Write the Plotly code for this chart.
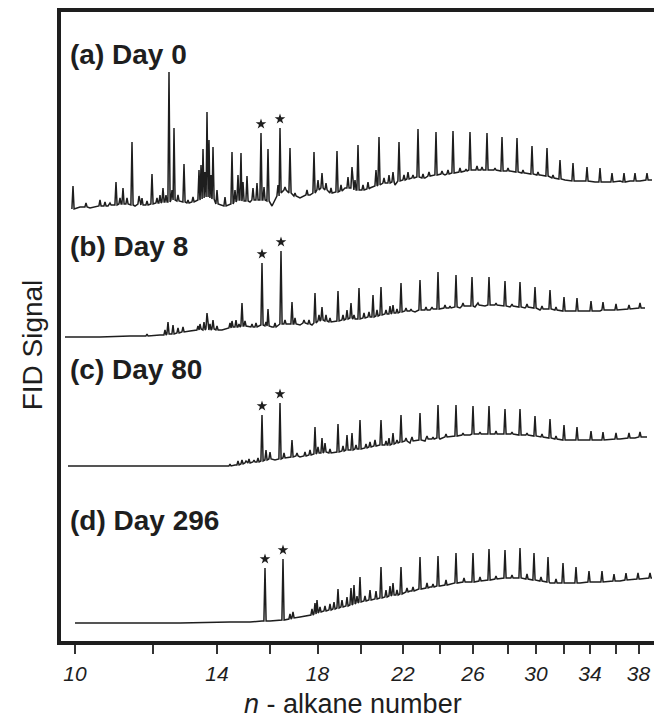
import numpy as np
import plotly.graph_objects as go

# ---------------- x axis: n-alkane reference retention times (min) ----------------
ALKANE_N = [10, 12, 14, 16, 18, 20, 22, 24, 26, 28, 30, 32, 34, 36, 38]
ALKANE_RT = [3.5, 11.3, 17.7, 22.95, 27.75, 32.05, 36.3, 40.0, 43.3, 46.8,
             49.6, 52.4, 55.0, 57.55, 59.85]
LABELED_N = [10, 14, 18, 22, 26, 30, 34, 38]

# ---------------- (a) Day 0 ----------------
A_BASE_RT = [3.2, 4.0, 5.0, 6.0, 6.8, 8.5, 9.5, 10.5, 11.5, 12.5, 14.0, 15.0, 15.5, 17.0, 17.8,
             18.5, 19.0, 19.6, 20.5, 21.0, 21.5, 22.5, 23.2, 23.6, 24.5, 25.5, 26.0, 27.0, 27.8,
             28.5, 29.3, 30.0, 30.5, 31.5, 32.3, 33.0, 34.5, 35.0, 35.5, 36.5, 37.2, 38.5, 39.0,
             40.5, 42.0, 43.0, 44.0, 45.5, 47.0, 48.5, 50.0, 51.3, 52.5, 54.0, 55.5, 56.5, 58.0,
             59.0, 60.0, 61.2]
A_BASE_SIG = [1, 3, 2, 4, 4, 5, 4, 6, 5, 7, 7, 9, 7, 12, 6,
              3, 4, 7, 10, 8, 10, 7, 4, 15, 20, 14, 12, 15, 17,
              13, 17, 17, 22, 20, 20, 22, 25, 28, 25, 30, 32, 32, 35,
              35, 37, 38, 40, 40, 39, 37, 35, 32, 30, 29, 28, 28, 29,
              29, 29, 30]
A_PEAK_RT = [3.3, 4.6, 6.0, 6.5, 7.0, 7.6, 8.0, 8.3, 8.7, 9.2, 9.9, 10.2, 10.7, 11.2, 11.7,
             12.0, 12.3, 12.6, 12.9, 13.2, 13.4, 13.8, 14.4, 14.8, 15.3, 15.9, 16.1, 16.3, 16.5,
             16.7, 16.9, 17.1, 17.3, 17.7, 18.5, 19.2, 19.5, 19.8, 20.1, 20.3, 20.7, 21.3, 21.7,
             22.1, 22.4, 22.8, 23.8, 24.0, 24.5, 25.0, 25.5, 26.7, 27.4, 27.8, 28.2, 28.6, 29.1,
             29.7, 30.1, 30.8, 31.2, 31.5, 31.8, 32.3, 32.8, 33.6, 33.9, 34.4, 34.9, 35.3, 35.9,
             36.4, 36.8, 37.3, 37.8, 38.3, 38.9, 39.6, 40.2, 40.8, 41.3, 42.0, 42.6, 43.0, 43.7,
             44.2, 44.7, 45.5, 46.2, 46.8, 47.7, 48.3, 49.2, 49.8, 50.7, 51.3, 52.0, 53.3, 54.7,
             56.0, 57.2, 58.4, 59.5, 60.7]
A_PEAK_FOOT = [1, 3, 4, 4, 5, 5, 6, 6, 6, 5, 6, 5, 5, 6, 7,
               7, 8, 8, 8, 10, 10, 9, 8, 7, 8, 10, 11, 12, 13,
               13, 14, 12, 11, 6, 4, 6, 8, 10, 10, 9, 9, 10, 10,
               10, 10, 9, 14, 17, 20, 17, 14, 15, 17, 20, 22, 20, 17,
               18, 19, 22, 22, 20, 20, 20, 21, 24, 25, 27, 27, 28, 29,
               30, 31, 32, 33, 32, 34, 35, 36, 36, 37, 38, 39, 40, 40,
               40, 40, 40, 39, 39, 38, 37, 36, 35, 34, 32, 31, 29, 29,
               28, 28, 28, 29, 30]
A_PEAK_TOP = [24, 7, 10, 8, 7, 28, 12, 22, 12, 68, 14, 12, 9, 36, 12,
              15, 22, 15, 138, 20, 82, 15, 46, 10, 13, 40, 45, 61, 38,
              98, 70, 35, 63, 20, 13, 58, 20, 35, 57, 28, 34, 22, 27,
              77, 23, 61, 25, 82, 23, 62, 17, 20, 58, 30, 37, 27, 22,
              59, 25, 33, 43, 30, 65, 25, 28, 40, 73, 32, 35, 38, 68,
              35, 38, 35, 81, 36, 38, 78, 39, 40, 79, 42, 41, 78, 44,
              43, 77, 42, 73, 42, 72, 40, 64, 38, 62, 35, 50, 47, 43,
              42, 37, 37, 37, 37]
A_STAR_RT = [22.1, 24.0]

# ---------------- (b) Day 8 ----------------
B_BASE_RT = [2.5, 6.0, 9.0, 12.0, 13.0, 14.0, 15.0, 15.6, 16.0, 17.5, 18.2, 19.0, 20.0, 21.0,
             21.8, 23.2, 23.6, 24.6, 26.0, 26.5, 27.2, 29.0, 30.2, 31.0, 31.6, 32.5, 33.0, 34.5,
             35.8, 36.8, 37.5, 38.5, 39.0, 40.5, 42.0, 43.5, 44.5, 45.5, 47.0, 48.5, 50.0, 51.5,
             53.0, 54.5, 56.0, 57.5, 59.0, 60.5]
B_BASE_SIG = [0, 0, 1, 2, 3, 6, 6, 7, 8, 7, 7, 10, 9, 10,
              10, 10, 12, 12, 12, 13, 12, 13, 15, 16, 18, 16, 20, 21,
              22, 24, 25, 26, 27, 28, 29, 30, 31, 31, 30, 29, 27, 26,
              26, 26, 26, 27, 28, 29]
B_PEAK_RT = [10.7, 12.5, 12.8, 13.3, 13.8, 14.3, 15.8, 16.0, 16.4, 16.7, 17.0, 17.3, 17.7, 19.0,
             19.2, 19.6, 19.9, 20.2, 20.5, 21.2, 21.6, 22.2, 22.6, 22.8, 23.5, 24.1, 24.5, 25.2,
             25.5, 26.4, 26.9, 27.5, 27.9, 28.2, 28.6, 29.0, 29.8, 30.3, 30.7, 31.1, 31.4, 31.9,
             32.4, 32.9, 33.3, 33.7, 34.1, 34.6, 35.0, 35.3, 35.7, 36.1, 36.6, 37.1, 38.0, 38.6,
             39.2, 39.8, 40.5, 41.0, 41.6, 42.3, 43.2, 43.8, 44.9, 45.6, 46.5, 47.2, 48.0, 48.7,
             49.5, 50.2, 51.0, 51.6, 52.4, 53.7, 55.1, 56.3, 57.6, 58.9, 60.0]
B_PEAK_FOOT = [1, 2, 3, 3, 4, 5, 7, 8, 7, 8, 7, 8, 7, 9,
               10, 10, 10, 11, 11, 10, 10, 12, 11, 11, 10, 13, 13, 13,
               13, 14, 13, 14, 16, 17, 16, 15, 16, 17, 18, 19, 18, 18,
               19, 20, 20, 21, 22, 23, 23, 24, 24, 25, 26, 26, 27, 27,
               28, 28, 29, 29, 30, 31, 31, 32, 32, 32, 31, 31, 30, 30,
               29, 28, 28, 27, 26, 26, 26, 27, 27, 28, 29]
B_PEAK_TOP = [3, 7, 15, 12, 9, 10, 11, 13, 15, 24, 13, 17, 11, 14,
              16, 17, 13, 34, 16, 13, 14, 74, 15, 28, 14, 86, 17, 35,
              19, 17, 17, 44, 22, 30, 22, 19, 46, 22, 27, 34, 22, 49,
              24, 25, 42, 27, 50, 27, 31, 32, 28, 54, 29, 28, 57, 30,
              30, 65, 32, 31, 62, 34, 60, 34, 60, 34, 56, 33, 55, 33,
              50, 31, 47, 30, 40, 39, 36, 35, 33, 32, 34]
B_STAR_RT = [22.2, 24.1]

# ---------------- (c) Day 80 ----------------
C_BASE_RT = [2.8, 6.0, 11.0, 16.0, 18.5, 19.5, 20.5, 21.5, 23.0, 23.5, 24.5, 25.5, 26.0, 27.0,
             29.0, 30.5, 31.2, 32.5, 33.5, 35.0, 36.0, 37.0, 38.5, 40.0, 41.5, 43.0, 45.0, 46.5,
             48.0, 49.5, 51.0, 52.5, 54.0, 56.0, 58.0, 59.5, 60.7]
C_BASE_SIG = [0, 0, 0, 0, 0, 1, 3, 4, 5, 6, 7, 8, 9, 10,
              11, 13, 14, 16, 19, 20, 21, 23, 25, 27, 29, 31, 32, 32,
              31, 30, 28, 26, 26, 26, 27, 28, 29]
C_PEAK_RT = [19.0, 19.8, 20.2, 20.6, 20.9, 21.4, 21.8, 22.2, 22.6, 23.0, 24.0, 24.4, 25.2, 25.7,
             26.5, 27.0, 27.5, 27.8, 28.2, 28.5, 29.0, 29.8, 30.3, 30.7, 31.2, 31.6, 32.0, 32.6,
             33.0, 33.5, 34.1, 34.6, 34.9, 35.3, 35.7, 36.1, 36.6, 37.2, 38.0, 38.7, 39.3, 39.8,
             40.6, 41.6, 42.3, 43.3, 44.0, 44.9, 45.6, 46.5, 47.2, 48.0, 48.7, 49.5, 50.2, 51.0,
             51.6, 52.4, 53.7, 55.1, 56.3, 57.6, 58.9, 60.0]
C_PEAK_FOOT = [0, 1, 2, 3, 3, 4, 4, 5, 6, 7, 7, 8, 9, 10,
               10, 11, 12, 13, 13, 14, 13, 14, 15, 16, 16, 17, 17, 18,
               19, 20, 21, 21, 21, 22, 23, 24, 25, 25, 26, 27, 27, 28,
               29, 30, 31, 32, 32, 32, 32, 32, 32, 31, 31, 30, 29, 28,
               27, 26, 26, 26, 26, 27, 28, 29]
C_PEAK_TOP = [2, 5, 6, 5, 7, 6, 8, 51, 16, 14, 63, 13, 26, 13,
              14, 16, 39, 19, 28, 23, 17, 42, 20, 31, 33, 21, 46, 22,
              24, 26, 46, 25, 28, 33, 26, 51, 28, 29, 53, 30, 29, 61,
              32, 61, 33, 60, 34, 60, 35, 57, 34, 57, 33, 50, 32, 47,
              30, 41, 39, 35, 34, 33, 33, 34]
C_STAR_RT = [22.2, 24.0]

# ---------------- (d) Day 296 ----------------
D_BASE_RT = [3.5, 8.0, 14.0, 19.0, 21.0, 22.2, 23.0, 24.0, 25.0, 26.0, 27.0, 28.0, 29.0, 30.0,
             31.0, 32.0, 33.0, 34.0, 35.0, 36.0, 37.0, 38.0, 39.0, 40.0, 41.5, 43.0, 45.0, 46.5,
             48.0, 49.5, 51.0, 52.5, 54.0, 56.0, 58.0, 60.0, 61.2]
D_BASE_SIG = [0, 0, 0, 1, 1, 2, 2, 3, 4, 6, 8, 11, 13, 16,
              19, 21, 23, 25, 27, 29, 32, 34, 36, 37, 40, 41, 44, 45,
              45, 42, 40, 40, 40, 41, 42, 44, 45]
D_PEAK_RT = [22.5, 24.3, 25.0, 25.3, 27.2, 27.5, 27.7, 28.0, 28.5, 29.0, 29.4, 29.8, 30.2, 30.7,
             31.1, 31.4, 31.7, 32.0, 32.5, 33.0, 33.6, 34.1, 34.6, 35.0, 35.3, 35.7, 36.1, 36.7,
             37.3, 38.0, 38.7, 39.3, 39.8, 40.6, 41.6, 42.4, 43.3, 44.0, 44.9, 45.6, 46.5, 47.2,
             48.0, 48.7, 49.4, 50.1, 50.8, 51.6, 52.3, 53.6, 54.9, 56.2, 57.4, 58.6, 59.8, 61.0]
D_PEAK_FOOT = [2, 3, 4, 5, 8, 9, 10, 11, 12, 13, 14, 15, 16, 17,
               18, 19, 20, 21, 22, 23, 24, 25, 26, 27, 28, 28, 29, 31,
               32, 34, 35, 36, 37, 38, 40, 41, 41, 42, 43, 44, 45, 45,
               45, 44, 43, 42, 41, 40, 40, 40, 41, 41, 42, 43, 44, 45]
D_PEAK_TOP = [55, 64, 9, 11, 14, 20, 23, 16, 17, 19, 21, 34, 23, 26,
              35, 38, 27, 46, 27, 33, 32, 56, 33, 37, 40, 33, 56, 35,
              36, 66, 40, 39, 67, 43, 70, 45, 70, 46, 74, 47, 73, 48,
              75, 49, 70, 46, 66, 44, 60, 56, 52, 52, 49, 50, 50, 50]
D_STAR_RT = [22.5, 24.3]

TRACES = [
    ("(a) Day 0", A_BASE_RT, A_BASE_SIG, A_PEAK_RT, A_PEAK_FOOT, A_PEAK_TOP, A_STAR_RT),
    ("(b) Day 8", B_BASE_RT, B_BASE_SIG, B_PEAK_RT, B_PEAK_FOOT, B_PEAK_TOP, B_STAR_RT),
    ("(c) Day 80", C_BASE_RT, C_BASE_SIG, C_PEAK_RT, C_PEAK_FOOT, C_PEAK_TOP, C_STAR_RT),
    ("(d) Day 296", D_BASE_RT, D_BASE_SIG, D_PEAK_RT, D_PEAK_FOOT, D_PEAK_TOP, D_STAR_RT),
]

# ---------------- styling / layout constants ----------------
OFFSETS = [431, 304, 175, 18]        # vertical stacking of the four chromatograms
LABEL_Y = [0.932, 0.627, 0.432, 0.192]  # panel label positions (paper fraction)
HALF_W = 0.11                        # half width of a drawn peak (min)
STAR_GAP = 9
INK = "#1e1e1e"
FONT = "Liberation Sans, Arial, sans-serif"


def chromatogram(base_rt, base_sig, pk_rt, pk_foot, pk_top):
    pk = np.asarray(pk_rt, dtype=float)
    pts = []
    for r, s in zip(base_rt, base_sig):
        if np.min(np.abs(pk - r)) > 0.2:
            pts.append((r, 0, s))
    for r, f, t in zip(pk_rt, pk_foot, pk_top):
        pts.append((r - HALF_W, 1, f))
        pts.append((r, 2, t))
        pts.append((r + HALF_W, 3, f))
    pts.sort(key=lambda p: (p[0], p[1]))
    return [p[0] for p in pts], [p[2] for p in pts]


fig = go.Figure()
annotations = []
for (label, brt, bsig, prt, pfoot, ptop, star_rt), off, ly in zip(TRACES, OFFSETS, LABEL_Y):
    x, y = chromatogram(brt, bsig, prt, pfoot, ptop)
    fig.add_trace(go.Scatter(x=x, y=[v + off for v in y], mode="lines",
                             line=dict(color=INK, width=1.5), hoverinfo="skip"))
    sx, sy = [], []
    for r in star_rt:
        i = prt.index(r)
        sx.append(r)
        sy.append(ptop[i] + off + STAR_GAP)
    fig.add_trace(go.Scatter(x=sx, y=sy, mode="markers",
                             marker=dict(symbol="star", size=8, color=INK),
                             hoverinfo="skip"))
    annotations.append(dict(x=0.012, y=ly, xref="paper", yref="paper", text="<b>%s</b>" % label,
                            showarrow=False, xanchor="left", yanchor="middle",
                            font=dict(family=FONT, size=28, color=INK)))

annotations.append(dict(x=0.4924, y=-0.1268, xref="paper", yref="paper",
                        text="<i>n</i> - alkane number",
                        showarrow=False, xanchor="center", yanchor="bottom",
                        font=dict(family=FONT, size=27, color=INK)))
annotations.append(dict(x=-0.0489, y=0.47, xref="paper", yref="paper", text="FID Signal",
                        textangle=-90,
                        showarrow=False, xanchor="center", yanchor="middle",
                        font=dict(family=FONT, size=28, color=INK)))

ticktext = ["<i>%d</i>" % n if n in LABELED_N else "" for n in ALKANE_N]

fig.update_layout(
    width=654, height=721,
    margin=dict(l=61, r=0, t=12, b=80),
    paper_bgcolor="white", plot_bgcolor="white",
    showlegend=False,
    annotations=annotations,
)
fig.update_xaxes(range=[2.1, 61.4], tickvals=ALKANE_RT, ticktext=ticktext,
                 ticks="outside", ticklen=9, tickwidth=1.5, tickcolor="#333",
                 ticklabelstandoff=2,
                 showline=True, linewidth=3.5, linecolor=INK, mirror=True,
                 showgrid=False, zeroline=False,
                 tickfont=dict(family=FONT, size=21, color=INK))
fig.update_yaxes(range=[0, 629], showticklabels=False, ticks="",
                 showline=True, linewidth=3.5, linecolor=INK, mirror=False,
                 showgrid=False, zeroline=False)

fig.write_html("out.html")
